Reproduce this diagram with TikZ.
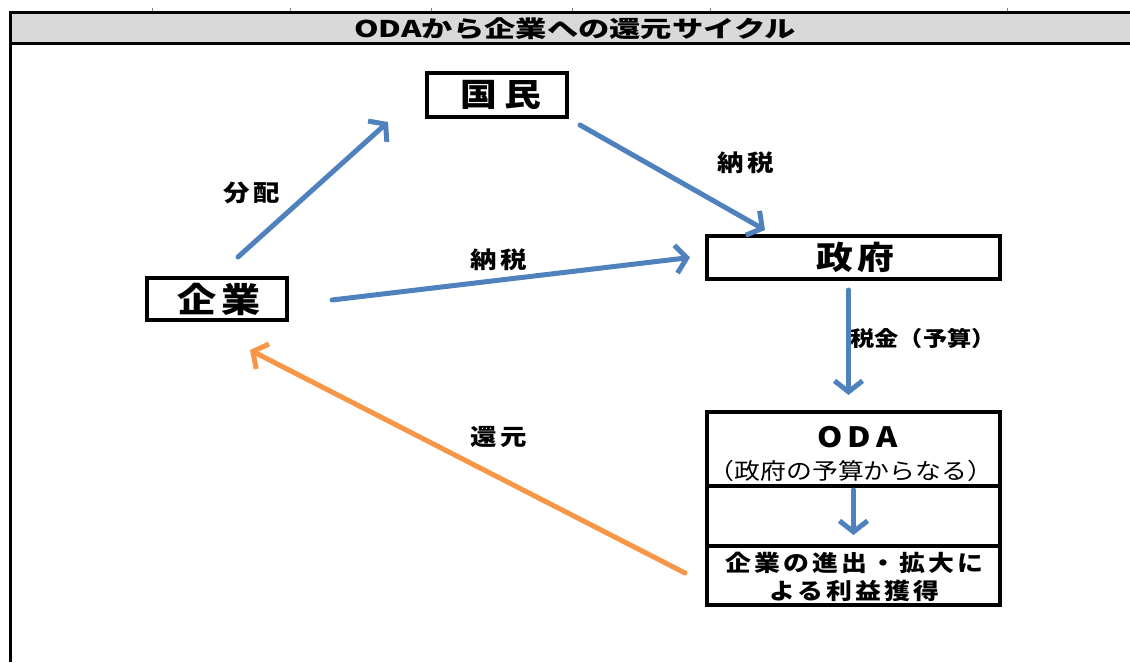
\documentclass[tikz,border=0pt]{standalone}
\usepackage{fontspec}
\setmainfont{Noto Sans CJK JP}[FakeStretch=1.15]
\newfontfamily\titlefont{Noto Sans CJK JP}[FakeStretch=1.36]
\usetikzlibrary{arrows.meta,calc}
\definecolor{ablue}{HTML}{4F81BD}
\definecolor{aorange}{HTML}{F79646}
\definecolor{bargray}{HTML}{D9D9D9}
\newcommand\lsp[2]{{\addfontfeature{LetterSpace=#1}#2\kern-0.#1em}}
\begin{document}
\begin{tikzpicture}[x=1pt,y=-1pt,
 box/.style={draw=black, line width=3.5pt, fill=white, inner sep=0pt, outer sep=0pt},
 barrow/.style={draw=ablue, line width=5pt, line cap=round, -{Straight Barb[length=11pt,width=28pt]}},
 oarrow/.style={barrow, draw=aorange},
 lbl/.style={font=\bfseries\fontsize{23}{27}\selectfont, inner sep=0pt}]
\useasboundingbox (0,0) rectangle (1130,662);
% frame
\fill[bargray] (10,12) rectangle (1130,43);
\draw[line width=3pt] (1130,12) -- (10,12) -- (10,662);
\draw[line width=3pt] (10,43) -- (1130,43);
\foreach \x in {152,290,431,572,710,1007} \draw[line width=1pt, gray] (\x,8) -- (\x,11);
\node[font=\titlefont\bfseries\fontsize{23}{26}\selectfont, inner sep=0pt] (title) at (575,29) {ODAから企業への還元サイクル};
% boxes
\node[box, minimum width=140pt, minimum height=44pt, font=\bfseries\fontsize{32}{36}\selectfont] (kokumin) at (497,95) {\lsp{25}{国民}};
\node[box, minimum width=140pt, minimum height=42pt, font=\bfseries\fontsize{34}{38}\selectfont] (kigyo) at (217,299) {\lsp{12}{企業}};
\node[box, minimum width=293pt, minimum height=43pt, font=\bfseries\fontsize{32}{36}\selectfont] (seifu) at (853.5,257.5) {\lsp{12}{政府}};
\node[box, minimum width=293pt, minimum height=74pt] (odatop) at (853.5,449) {};
\node[box, minimum width=293pt, minimum height=60pt] (odamid) at (853.5,516) {};
\node[box, minimum width=293pt, minimum height=59pt] (odabot) at (853.5,575.5) {};
\node[font=\bfseries\fontsize{28}{32}\selectfont, inner sep=0pt] (odattl) at (855,437) {\lsp{18}{ODA}};
\node[font=\fontsize{22.5}{26}\selectfont, inner sep=0pt] (odasub) at (851,471) {（政府の予算からなる）};
\node[font=\bfseries\fontsize{22.5}{28}\selectfont, inner sep=0pt, align=center] (odatxt) at (853,577) {\lsp{14}{企業の進出・拡大に}\\\lsp{14}{よる利益獲得}};
% labels
\node[lbl] (l1) at (250,193) {\lsp{15}{分配}};
\node[lbl] (l2) at (744,163) {\lsp{15}{納税}};
\node[lbl] (l3) at (497,260) {\lsp{15}{納税}};
\node[lbl, font=\bfseries\fontsize{21}{24}\selectfont] (l4) at (923,338) {税金（予算）};
\node[lbl] (l5) at (497,437) {\lsp{15}{還元}};
% arrows
\draw[barrow] ([xshift=21pt,yshift=21pt]kigyo.north) -- ([xshift=-39pt,yshift=-5pt]kokumin.south west);
\draw[barrow] ([xshift=13pt,yshift=-8pt]kokumin.south east) -- ([xshift=58pt,yshift=6pt]seifu.north west);
\draw[barrow] ([xshift=45pt,yshift=-1pt]kigyo.east) -- ([xshift=-17pt]seifu.west);
\draw[barrow] ([xshift=-5pt,yshift=-11pt]seifu.south) -- ([xshift=-5pt,yshift=17pt]odatop.north);
\draw[barrow] ([yshift=-4pt]odamid.north) -- ([yshift=11pt]odamid.south);
\draw[oarrow] ([xshift=-22pt,yshift=2.5pt]odabot.west) -- ([xshift=33pt,yshift=-30pt]kigyo.south);
\end{tikzpicture}
\end{document}
